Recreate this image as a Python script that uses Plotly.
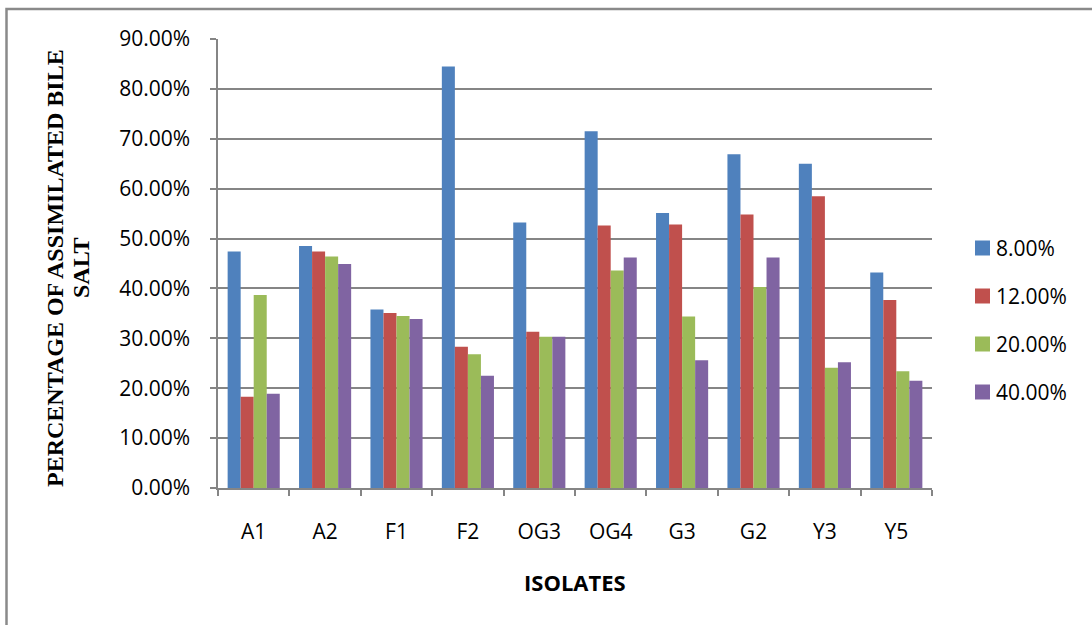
import plotly.graph_objects as go

categories = ["A1", "A2", "F1", "F2", "OG3", "OG4", "G3", "G2", "Y3", "Y5"]
series_names = ["8.00%", "12.00%", "20.00%", "40.00%"]
series_colors = ["#4F81BD", "#C0504D", "#9BBB59", "#8064A2"]
v8 = [0.474, 0.485, 0.358, 0.845, 0.532, 0.715, 0.551, 0.669, 0.650, 0.432]
v12 = [0.183, 0.474, 0.351, 0.283, 0.313, 0.526, 0.528, 0.548, 0.585, 0.377]
v20 = [0.387, 0.464, 0.345, 0.268, 0.303, 0.436, 0.344, 0.403, 0.241, 0.234]
v40 = [0.189, 0.449, 0.339, 0.225, 0.303, 0.462, 0.256, 0.462, 0.252, 0.215]
series_values = [v8, v12, v20, v40]
y_ticks = [0, 0.1, 0.2, 0.3, 0.4, 0.5, 0.6, 0.7, 0.8, 0.9]
y_title_lines = ["PERCENTAGE OF ASSIMILATED BILE", "SALT"]
x_title = "ISOLATES"

W, H = 1092, 625
L, R, T, B = 218, 160, 39, 137
pw, ph = W - L - R, H - T - B


def px(x):
    return (x - L) / pw


def py(y):
    return (H - B - y) / ph


fig = go.Figure()
for name, color, vals in zip(series_names, series_colors, series_values):
    fig.add_trace(go.Bar(x=categories, y=vals, name=name,
                         marker=dict(color=color, line=dict(width=0)),
                         showlegend=False))

GRID = "#858585"
TF = "Open Sans"

fig.update_layout(
    width=W, height=H,
    margin=dict(l=L, r=R, t=T, b=B, autoexpand=False),
    paper_bgcolor="white", plot_bgcolor="white",
    barmode="group", bargap=0.27, bargroupgap=0,
    xaxis=dict(
        type="category", tickson="boundaries", ticks="outside", ticklen=6,
        tickcolor=GRID, tickwidth=1.5, showgrid=False, showline=True,
        linecolor=GRID, linewidth=1.5,
        tickfont=dict(family=TF, size=21, color="black"),
        ticklabelstandoff=24,
    ),
    yaxis=dict(
        range=[0, 0.9], tickvals=y_ticks, tickformat=".2%",
        ticks="outside", ticklen=6, tickcolor=GRID, tickwidth=1.5,
        showgrid=True, gridcolor=GRID, gridwidth=1.5,
        showline=True, linecolor=GRID, linewidth=1.5, zeroline=False,
        tickfont=dict(family=TF, size=21, color="black"),
        ticklabelstandoff=16,
    ),
)

# y-axis title (two lines)
for i, (line, xc) in enumerate(zip(y_title_lines, [55, 81])):
    fig.add_annotation(
        text="<b>%s</b>" % line, xref="paper", yref="paper",
        x=px(xc), y=py(268), showarrow=False, textangle=-90,
        xanchor="center", yanchor="middle",
        font=dict(family="Liberation Serif", size=24, color="black"),
    )

# x-axis title
fig.add_annotation(
    text="<b>%s</b>" % x_title, xref="paper", yref="paper",
    x=px(575), y=py(582), showarrow=False, xanchor="center", yanchor="middle",
    font=dict(family=TF, size=22, color="black"),
)

# legend (manual)
for i, (name, color) in enumerate(zip(series_names, series_colors)):
    yc = 248 + i * 48
    fig.add_shape(type="rect", xref="paper", yref="paper",
                  x0=px(975), x1=px(990), y0=py(yc - 7.5), y1=py(yc + 7.5),
                  fillcolor=color, line=dict(width=0))
    fig.add_annotation(text=name, xref="paper", yref="paper",
                       x=px(994), y=py(yc), showarrow=False,
                       xanchor="left", yanchor="middle",
                       font=dict(family=TF, size=21, color="black"))

# outer frame
fig.add_shape(type="rect", xref="paper", yref="paper",
              x0=px(6.5), x1=px(1110), y0=py(9), y1=py(650),
              line=dict(color="#8a8a8a", width=2.5), fillcolor="rgba(0,0,0,0)",
              layer="below")

fig.write_html(
    "out.html",
    config={"displayModeBar": False},
    post_script="document.body.style.margin='0';document.body.style.overflow='hidden';",
)
